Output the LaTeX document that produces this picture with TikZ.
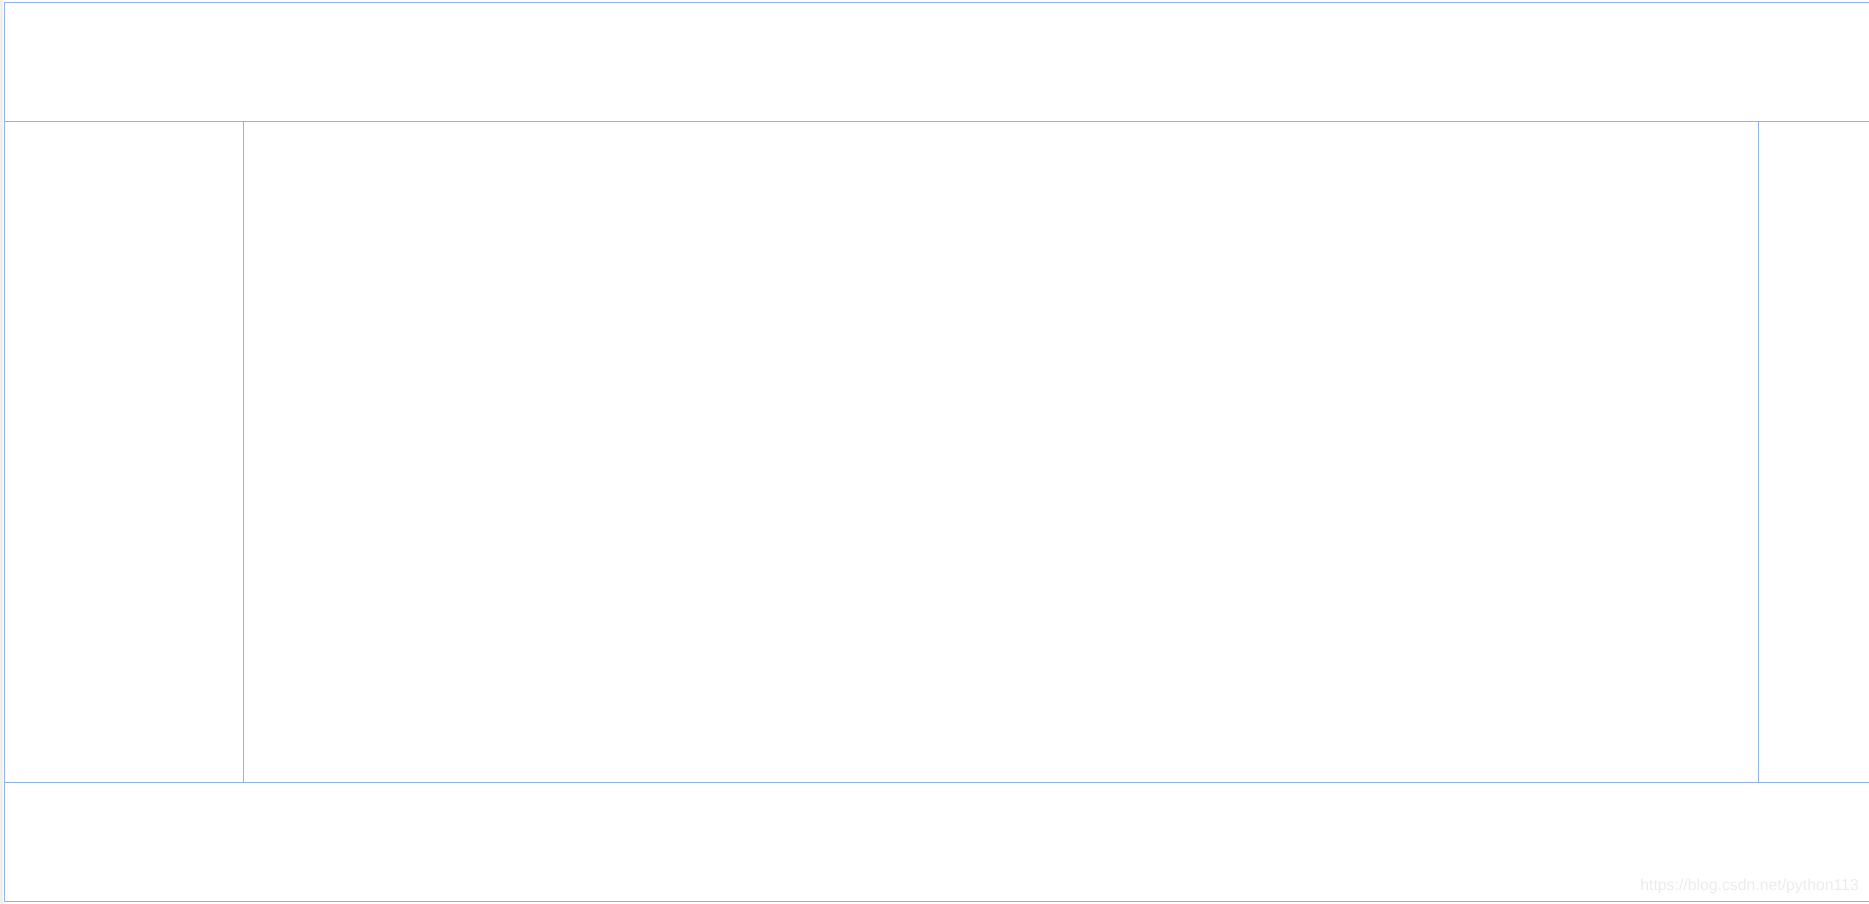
\documentclass[tikz,border=0pt]{standalone}
\usepackage{fontspec}
\setmainfont{Liberation Sans}
\usetikzlibrary{positioning}
\definecolor{layoutblue}{RGB}{142,180,232}
\definecolor{markgray}{RGB}{236,236,236}
\tikzset{
    frame/.style={draw=layoutblue, line width=1.3pt},
    watermark/.style={text=markgray, font=\fontsize{15.8}{18}\selectfont, inner sep=0pt, anchor=base east}
}

\begin{document}
\begin{tikzpicture}[x=1pt, y=-1pt]
\useasboundingbox (0,0) rectangle (1869,904);

% Page corners and region borders
\coordinate (topleft) at (4.3,2.3);
\coordinate (topright) at (1869,2.3);
\coordinate (botleft) at (4.3,901.3);
\coordinate (botright) at (1869,901.3);
\coordinate (headl) at (4.3,121.3);
\coordinate (headr) at (1869,121.3);
\coordinate (footl) at (4.3,782.3);
\coordinate (footr) at (1869,782.3);

% Thin gray strip at the left edge
\fill[gray!12] (0,0) rectangle (3,904);

% Outer frame (open at the right)
\draw[frame] (topright) -- (topleft) -- (botleft) -- (botright);

% Header and footer
\draw[frame] (headl) -- (headr);
\draw[frame] (footl) -- (footr);

% Left and right sidebars
\draw[frame] (243.3,121.3) -- (243.3,782.3);
\draw[frame] (1758.3,121.3) -- (1758.3,782.3);

% Watermark
\node[watermark] (mark) at (1859,890) {https://blog.csdn.net/python113};

\end{tikzpicture}
\end{document}
